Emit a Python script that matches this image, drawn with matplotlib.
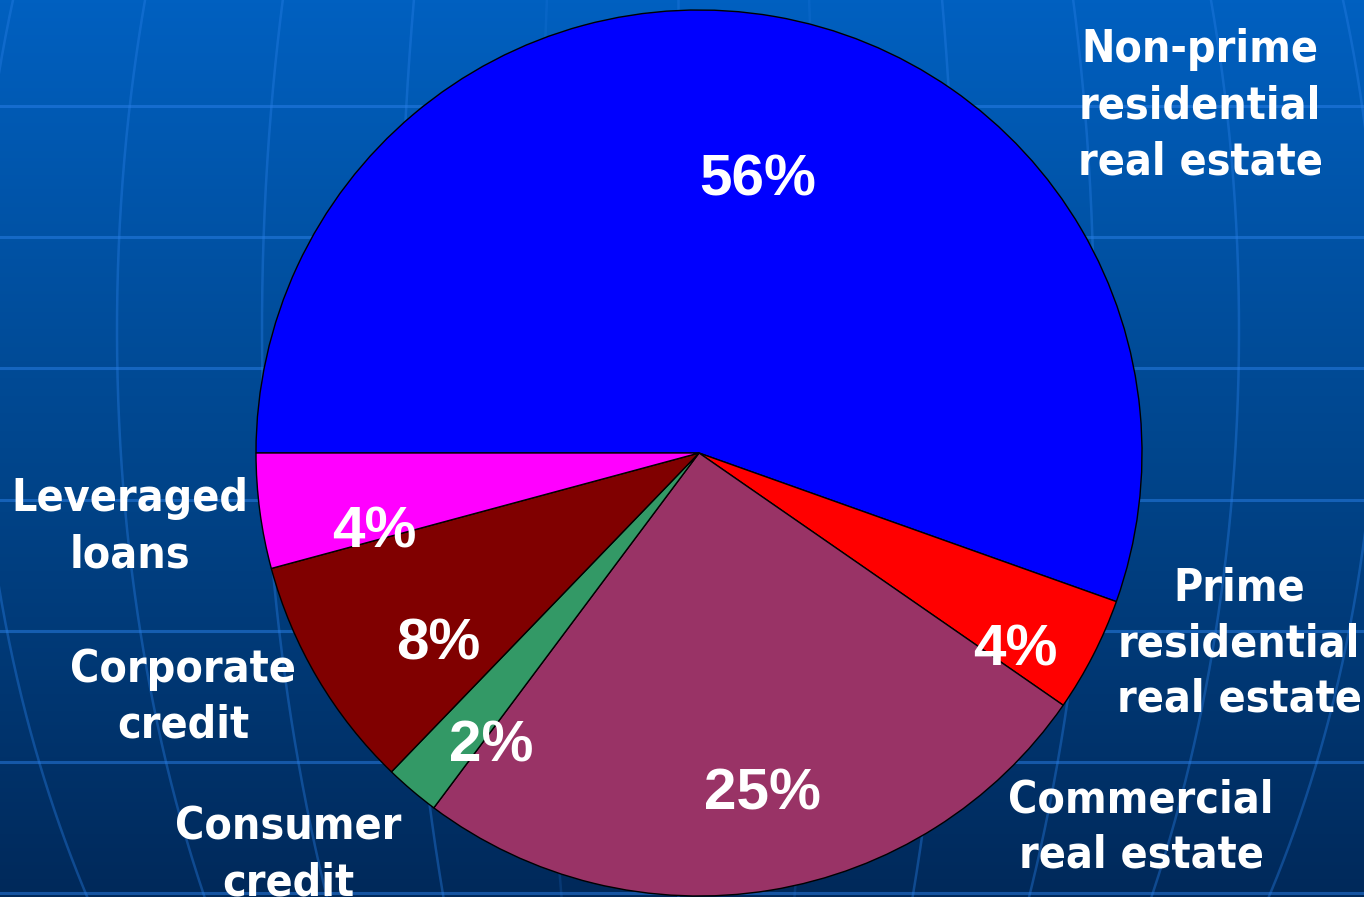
import numpy as np
import matplotlib
matplotlib.use("Agg")
import matplotlib.pyplot as plt
from matplotlib.colors import LinearSegmentedColormap

W, H = 1364, 897

# slice data, clockwise from 9 o'clock
categories = ["Non-prime\nresidential\nreal estate", "Prime\nresidential\nreal estate",
              "Commercial\nreal estate", "Consumer\ncredit", "Corporate\ncredit",
              "Leveraged\nloans"]
shares = [55.5, 4.2, 25.6, 2.0, 8.6, 4.2]
pct_labels = ["56%", "4%", "25%", "2%", "8%", "4%"]
colors = ["#0000FF", "#FF0000", "#993366", "#339966", "#800000", "#FF00FF"]

# label placement in image pixels (x centre, y of last baseline)
cat_pos = [(1200, 174), (1239, 712), (1141, 868), (288, 895), (183, 738), (130, 567)]
pct_pos = [(758, 195), (1015, 665), (762, 810), (491, 762), (438, 660), (374, 547)]

# globe grid behind the chart
parallels = [106, 237, 368, 500, 631, 762, 893]
meridians = [0, 138, 278, 416, 561, 700, 840]


def draw_background(ax):
    cmap = LinearSegmentedColormap.from_list(
        "bg", [(0.0, "#0060C0"), (0.5, "#00468D"), (1.0, "#00295A")])
    grad = np.linspace(0, 1, 256).reshape(-1, 1)
    ax.imshow(grad, cmap=cmap, aspect="auto", extent=[0, W, 0, H],
              origin="upper", zorder=0)
    for y in parallels:
        ax.plot([0, W], [H - y, H - y], color="#2a80e8", lw=2.2, alpha=0.5, zorder=1)
    ys = np.linspace(-20, H + 20, 300)
    cx, cy, R = 678, 330, 1057
    for a in meridians:
        dx = a * np.sqrt(1 - ((ys - cy) / R) ** 2)
        alpha = 0.18 if a < 200 else 0.38
        for sign in (-1, 1):
            ax.plot(cx + sign * dx, H - ys, color="#2a80e8", lw=1.8, alpha=alpha, zorder=1)


def main():
    fig = plt.figure(figsize=(W / 100, H / 100), dpi=100)
    ax = fig.add_axes([0, 0, 1, 1])
    draw_background(ax)

    ax.pie(shares, colors=colors, startangle=180, counterclock=False,
           center=(699, H - 453), radius=443,
           wedgeprops=dict(edgecolor="black", linewidth=1.0, zorder=2))

    for label, (x, y) in zip(categories, cat_pos):
        ax.text(x, H - y, label, ha="center", va="baseline", multialignment="center",
                color="white", fontsize=32, fontweight="bold", family="DejaVu Sans",
                fontstretch="condensed", linespacing=1.38, zorder=3)
    for label, (x, y) in zip(pct_labels, pct_pos):
        ax.text(x, H - y, label, ha="center", va="baseline", color="white",
                fontsize=42, fontweight="bold", family="Liberation Sans", zorder=3)

    ax.set_xlim(0, W)
    ax.set_ylim(0, H)
    ax.set_aspect("equal")
    ax.axis("off")
    fig.savefig("out.png", dpi=100)


if __name__ == "__main__":
    main()
